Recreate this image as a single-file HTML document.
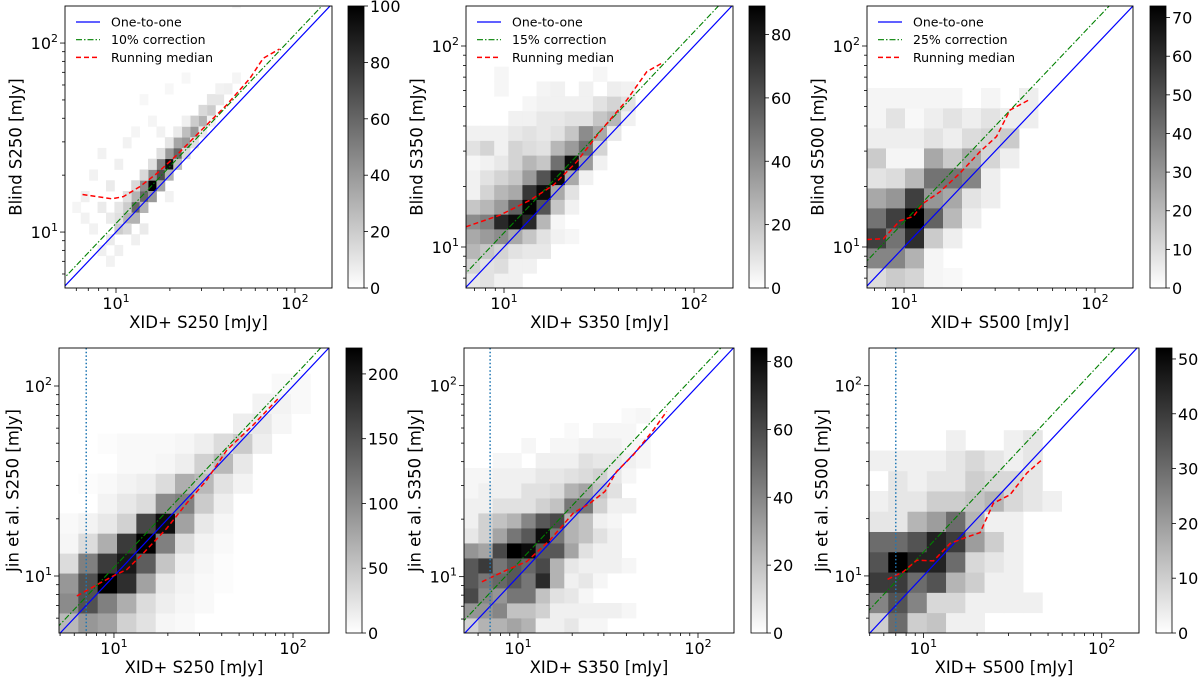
<!DOCTYPE html>
<html><head><meta charset="utf-8"><style>
html,body{margin:0;padding:0;background:#fff;}
svg{display:block;font-family:"DejaVu Sans","Liberation Sans",sans-serif;}
</style></head><body>
<svg id="fig" width="1200" height="680" viewBox="0 0 1200 680" xmlns="http://www.w3.org/2000/svg">
<defs>
<linearGradient id="cmap" x1="0" y1="1" x2="0" y2="0"><stop offset="0" stop-color="#fff"/><stop offset="1" stop-color="#000"/></linearGradient>
</defs>
</svg>
<script>
// ---------- DATA ----------
const p1Cols=[6,7,8,9,10,11,12,13,14,15,16,17,18,19,20, 6,7,8,9,10,11,12,13,14,15,16,17,18, 7,8,9,10,11,12,13,14,15,16,17, 5,6,7,8,9,10,11,12,13,14, 2,3,4,5,6,4,7,8,3,5,10,9,12,11,14,2,1,4,8,9,12,20,5,6];
const p1Rows=[5,6,7,8,9,10,11,12,13,14,15,16,17,18,19, 6,7,8,9,10,11,12,13,14,15,16,17,18, 5,6,7,8,9,10,11,12,13,14,15, 6,7,8,9,10,11,12,13,14,15, 8,10,12,9,11,7,13,14,5,2,15,17,18,14,19,6,7,3,4,5,8,26,4,3];
const p1Counts=[20,30,60,60,100,70,95,60,40,40,30,20,10,6,4, 12,20,30,45,45,50,40,35,25,20,15,10,5, 15,30,30,40,35,30,25,15,12,8,5, 8,10,12,15,15,12,12,10,8,6, 6,5,5,8,6,8,5,4,5,5,4,3,3,5,3,5,4,6,6,8,5,4,8,6];
const p1MedX=[6.5,9.5,11,13.6,16.9,21.8,29.4,41.5,56,66.5,82];
const p1MedY=[15.8,15.0,15.4,17.4,20.4,25.5,33.9,47,65,83,93];
const p1CbTicks=[0,20,40,60,80,100];

const p2Grid=[
[8,10,5,5],
[15,10,12,5,5],
[25,20,15,10,8,8],
[30,35,40,30,20,10,5,3],
[40,45,75,85,75,25,3],
[20,25,35,55,88,60,20,5],
[5,15,25,30,70,85,30,10],
[5,10,15,20,35,60,85,30,5],
[3,5,8,15,25,20,50,85,35,5],
[10,15,5,15,12,10,25,35,50,15],
[5,5,5,8,10,8,10,20,40,30,8],
[0,0,0,5,5,8,8,10,10,20,25,5],
[0,0,0,0,3,5,5,5,5,10,15,10],
[0,0,3,0,0,4,5,0,5,0,6,5],
[0,0,3,0,0,0,0,0,0,3]];
const p2MedX=[6.3,9.5,13.7,18.2,24.1,32,44.3,56.4,67.6];
const p2MedY=[12.6,14.4,17.1,20.3,26.5,37.5,53.8,74.5,82];
const p2CbTicks=[0,20,40,60,80];

const p3Grid=[
[10,15,12,3,2],
[35,35,22,3],
[55,40,60,15,5],
[40,55,73,45,20,5],
[25,30,55,30,25,8,5],
[8,10,20,40,40,35,5],
[15,3,3,25,15,25,12,5],
[5,5,5,8,5,10,12,15],
[3,8,2,5,8,5,8,5,5],
[3,3,3,3,3,0,3,0,5]];
const p3MedX=[6.4,7.8,9.5,11.2,12.6,15.4,19.6,25,30.5,35.9,45.7];
const p3MedY=[10.9,11,13.5,14.2,16.5,18.8,23.3,29.8,35.4,48,54.3];
const p3CbTicks=[0,10,20,30,40,50,60,70];

const p4Grid=[
[60,90,80,40,25,8,5],
[100,150,110,70,30,15,8,5],
[90,150,220,180,80,20,10,5,3],
[30,110,170,200,140,50,15,8,3],
[8,30,70,170,220,110,30,10,5],
[5,10,20,40,160,210,80,20,8],
[0,0,10,20,30,100,110,45,15],
[0,3,5,10,15,30,70,60,25,10],
[0,0,0,5,5,8,15,40,60,20],
[0,0,3,5,5,5,8,15,30,45,15],
[0,0,0,0,0,0,0,0,0,15,20,8],
[0,0,0,0,0,0,0,0,0,0,10,10,5],
[0,0,0,0,0,0,0,0,0,0,0,5,5]];
const p4MedX=[6.2,8.4,10.1,11.8,14.6,19.7,25.5,33,42.7,60,82.8];
const p4MedY=[7.85,9.2,10.1,10.8,13.2,17.8,24.2,32,46,62.4,86];
const p4CbTicks=[0,50,100,150,200];

const p5Grid=[
[15,25,25,30,25,5,5,8,3,3],
[35,35,40,20,20,15,5,5,5,5,5,3],
[60,40,35,45,45,20,10,8,3],
[55,45,50,55,45,70,25,5,8,3],
[55,65,45,55,50,60,25,8,5,5,5,3],
[35,30,60,84,80,55,55,30,10,5,5],
[8,15,30,45,55,80,45,25,20,10,5],
[5,15,20,25,40,55,60,25,20,5,3],
[5,5,10,10,10,15,20,45,45,15,5,5],
[3,5,5,5,10,10,12,25,30,20,10],
[3,3,5,5,5,8,8,10,12,15,8,3],
[0,0,3,3,0,5,5,5,10,8,8,5,3],
[0,0,0,0,3,0,3,3,5,5,5,3,3],
[0,0,0,0,0,0,0,2,0,3,3,3],
[0,0,0,0,0,0,0,0,0,0,0,2,3]];
const p5MedX=[6.3,8.6,11.2,15.1,20.3,25.1,30.4,35.3,43.7,56.5,67];
const p5MedY=[9.4,10.8,12,15.6,21.5,24.2,27.9,35.5,43.4,58.6,73.3];
const p5CbTicks=[0,20,40,60,80];

const p6Grid=[
[10,30,10,12,3,3],
[25,35,25,8,8,3,3,3,3],
[40,40,30,35,15,10,3,3],
[35,52,45,45,30,8,5,3],
[30,30,35,45,40,20,10,3],
[5,5,15,20,30,15,3,3],
[3,5,5,10,10,12,15,8,5,3],
[0,5,3,5,5,10,8,8,5],
[3,3,3,3,5,8,5,3,5],
[0,0,0,0,3,0,0,3,5]];
const p6MedX=[6.3,7.7,9.2,11.4,14.1,17.5,20.8,24.7,30.6,38,46.1];
const p6MedY=[9.6,10.5,12.1,12,14.8,16,16.9,24.1,26.7,34.7,40.7];
const p6CbTicks=[0,10,20,30,40,50];

const corrFactors=[1/0.9,1/0.85,1/0.75];
const corrLabels=["10% correction","15% correction","25% correction"];
const vlineX=7;

// ---------- RENDER ----------
const NS="http://www.w3.org/2000/svg";
const svg=document.getElementById('fig');
function mk(tag,attrs,parent){const e=document.createElementNS(NS,tag);for(const k in attrs)e.setAttribute(k,attrs[k]);(parent||svg).appendChild(e);return e;}
const L=Math.log10;

const panels=[
 {id:'p1',x0:65,x1:332,y0:6,y1:288,lx0:0.715,lx1:2.207,ly0:0.704,ly1:2.196,gx0:0.709,gw:0.047,gy0:0.704,gh:0.057,cells:[p1Cols,p1Rows,p1Counts],vmax:100,cb:[348,364],cbT:p1CbTicks,corr:0,med:[p1MedX,p1MedY],vline:false,xl:'XID+ S250 [mJy]',yl:'Blind S250 [mJy]',ylx:16,legend:true},
 {id:'p2',x0:466,x1:733,y0:6,y1:288,lx0:0.8,lx1:2.205,ly0:0.796,ly1:2.199,gx0:0.8,gw:0.0742,gy0:0.796,gh:0.0734,grid:p2Grid,vmax:89,cb:[749,765],cbT:p2CbTicks,corr:1,med:[p2MedX,p2MedY],vline:false,xl:'XID+ S350 [mJy]',yl:'Blind S350 [mJy]',ylx:417,legend:true},
 {id:'p3',x0:867,x1:1133,y0:6,y1:288,lx0:0.806,lx1:2.199,ly0:0.796,ly1:2.199,gx0:0.806,gw:0.0995,gy0:0.796,gh:0.0995,grid:p3Grid,vmax:73,cb:[1150,1166],cbT:p3CbTicks,corr:2,med:[p3MedX,p3MedY],vline:false,xl:'XID+ S500 [mJy]',yl:'Blind S500 [mJy]',ylx:818,legend:true},
 {id:'p4',x0:59,x1:329,y0:348,y1:633,lx0:0.693,lx1:2.201,ly0:0.7,ly1:2.2,gx0:0.693,gw:0.108,gy0:0.7,gh:0.105,grid:p4Grid,vmax:220,cb:[346,362],cbT:p4CbTicks,corr:0,med:[p4MedX,p4MedY],vline:true,xl:'XID+ S250 [mJy]',yl:'Jin et al. S250 [mJy]',ylx:13,legend:false},
 {id:'p5',x0:464,x1:734,y0:348,y1:633,lx0:0.7,lx1:2.2,ly0:0.705,ly1:2.197,gx0:0.7,gw:0.0796,gy0:0.705,gh:0.0785,grid:p5Grid,vmax:84,cb:[751,767],cbT:p5CbTicks,corr:1,med:[p5MedX,p5MedY],vline:true,xl:'XID+ S350 [mJy]',yl:'Jin et al. S350 [mJy]',ylx:415,legend:false},
 {id:'p6',x0:869,x1:1139,y0:348,y1:633,lx0:0.695,lx1:2.209,ly0:0.7,ly1:2.198,gx0:0.695,gw:0.108,gy0:0.7,gh:0.1066,grid:p6Grid,vmax:52,cb:[1156,1172],cbT:p6CbTicks,corr:2,med:[p6MedX,p6MedY],vline:true,xl:'XID+ S500 [mJy]',yl:'Jin et al. S500 [mJy]',ylx:822,legend:false}
];

function gray(v,vmax){const t=Math.max(0,Math.min(1,v/vmax));const g=Math.round(255*(1-t));return `rgb(${g},${g},${g})`;}

panels.forEach((p,pi)=>{
 const g=mk('g',{});
 
 
 const lxs=l=>p.x0+(l-p.lx0)/(p.lx1-p.lx0)*(p.x1-p.x0);
 const lys=l=>p.y1-(l-p.ly0)/(p.ly1-p.ly0)*(p.y1-p.y0);
 const sx=v=>lxs(L(v)), sy=v=>lys(L(v));
 const cp=mk('clipPath',{id:'clip'+p.id},g);
 mk('rect',{x:p.x0,y:p.y0,width:p.x1-p.x0,height:p.y1-p.y0},cp);
 const hm=mk('g',{'clip-path':`url(#clip${p.id})`},g);
 
 
 function cell(c,r,v){
  if(!v)return;
  const xa=lxs(p.gx0+c*p.gw), xb=lxs(p.gx0+(c+1)*p.gw);
  const ya=lys(p.gy0+(r+1)*p.gh), yb=lys(p.gy0+r*p.gh);
  const rc=mk('rect',{x:xa.toFixed(2),y:ya.toFixed(2),width:(xb-xa+0.4).toFixed(2),height:(yb-ya+0.4).toFixed(2),fill:gray(v,p.vmax)},hm);
  
  
 }
 if(p.cells){const [cs,rs,vs]=p.cells;for(let i=0;i<cs.length;i++)cell(cs[i],rs[i],vs[i]);}
 else p.grid.forEach((row,r)=>row.forEach((v,c)=>cell(c,r,v)));
 const lines=mk('g',{'clip-path':`url(#clip${p.id})`,fill:'none'},g);
 const a=Math.pow(10,Math.min(p.lx0,p.ly0)-0.1), b=Math.pow(10,Math.max(p.lx1,p.ly1)+0.1);
 const one=mk('line',{x1:sx(a),y1:sy(a),x2:sx(b),y2:sy(b),stroke:'#0000ff','stroke-width':1.2},lines);
 
 
 const f=corrFactors[p.corr];
 const cl=mk('line',{x1:sx(a),y1:sy(a*f),x2:sx(b),y2:sy(b*f),stroke:'#008000','stroke-width':1.1,'stroke-dasharray':'6,2,1.5,2'},lines);
 
 
 const [mx,my]=p.med;
 const pts=mx.map((x,i)=>sx(x).toFixed(1)+','+sy(my[i]).toFixed(1)).join(' ');
 const ml=mk('polyline',{points:pts,stroke:'#ff0000','stroke-width':1.5,'stroke-dasharray':'5,3'},lines);
 
 
 if(p.vline){
  const vl=mk('line',{x1:sx(vlineX),y1:p.y0,x2:sx(vlineX),y2:p.y1,stroke:'#1f77b4','stroke-width':1.5,'stroke-dasharray':'1.5,2.2'},lines);
  
  
 }
 const fr=mk('rect',{x:p.x0,y:p.y0,width:p.x1-p.x0,height:p.y1-p.y0,fill:'none',stroke:'#000','stroke-width':0.9},g);
 
 
 const tk=mk('g',{stroke:'#000','stroke-width':0.8},g);
 
 
 for(let d=0;d<=2;d++)for(let m=1;m<=9;m++){
  const l=d+L(m);const major=m===1;const len=major?5:3;
  if(l>=p.lx0&&l<=p.lx1){const x=lxs(l);mk('line',{x1:x,y1:p.y1,x2:x,y2:p.y1+len},tk);}
  if(l>=p.ly0&&l<=p.ly1){const y=lys(l);mk('line',{x1:p.x0,y1:y,x2:p.x0-len,y2:y},tk);}
 }
 [1,2].forEach(d=>{
  const xt=mk('text',{x:lxs(d),y:p.y1+21,'text-anchor':'middle','font-size':16,fill:'#000'},g);
  
  
  xt.textContent='10';
  const s1=mk('tspan',{dy:-7,'font-size':11},xt);s1.textContent=String(d);
  const yt=mk('text',{x:p.x0-7,y:lys(d)+6,'text-anchor':'end','font-size':16,fill:'#000'},g);
  
  
  yt.textContent='10';
  const s2=mk('tspan',{dy:-7,'font-size':11},yt);s2.textContent=String(d);
 });
 const xl=mk('text',{x:(p.x0+p.x1)/2,y:p.y1+40,'text-anchor':'middle','font-size':16.5,fill:'#000'},g);
 
 
 xl.textContent=p.xl;
 const ym=(p.y0+p.y1)/2;
 const yl=mk('text',{x:p.ylx,y:ym,'text-anchor':'middle','font-size':16.5,fill:'#000','dominant-baseline':'central',transform:`rotate(-90 ${p.ylx} ${ym})`},g);
 
 
 yl.textContent=p.yl;
 const cb=mk('g',{},g);
 
 
 const [cx0,cx1]=p.cb;
 mk('rect',{x:cx0,y:p.y0,width:cx1-cx0,height:p.y1-p.y0,fill:'url(#cmap)',stroke:'#000','stroke-width':0.8},cb);
 p.cbT.forEach(v=>{
  const y=p.y1-v/p.vmax*(p.y1-p.y0);
  mk('line',{x1:cx1,y1:y,x2:cx1+4,y2:y,stroke:'#000','stroke-width':0.8},cb);
  const t=mk('text',{x:cx1+6,y:y+6,'font-size':16,fill:'#000'},cb);
  
  
  t.textContent=String(v);
 });
 if(p.legend){
  const lg=mk('g',{},g);
  
  
  const items=[['One-to-one','#0000ff','none'],[corrLabels[p.corr],'#008000','6,2,1.5,2'],['Running median','#ff0000','5,3']];
  items.forEach((it,i)=>{
   const y=p.y0+16+i*17.7;
   const ln=mk('line',{x1:p.x0+11,y1:y,x2:p.x0+35,y2:y,stroke:it[1],'stroke-width':it[0]==='Running median'?1.5:1.2,'stroke-dasharray':it[2]},lg);
   
   
   const t=mk('text',{x:p.x0+46,y:y+4.5,'font-size':12.5,fill:'#000'},lg);
   
   
   t.textContent=it[0];
  });
 }
});
</script>
</body></html>
